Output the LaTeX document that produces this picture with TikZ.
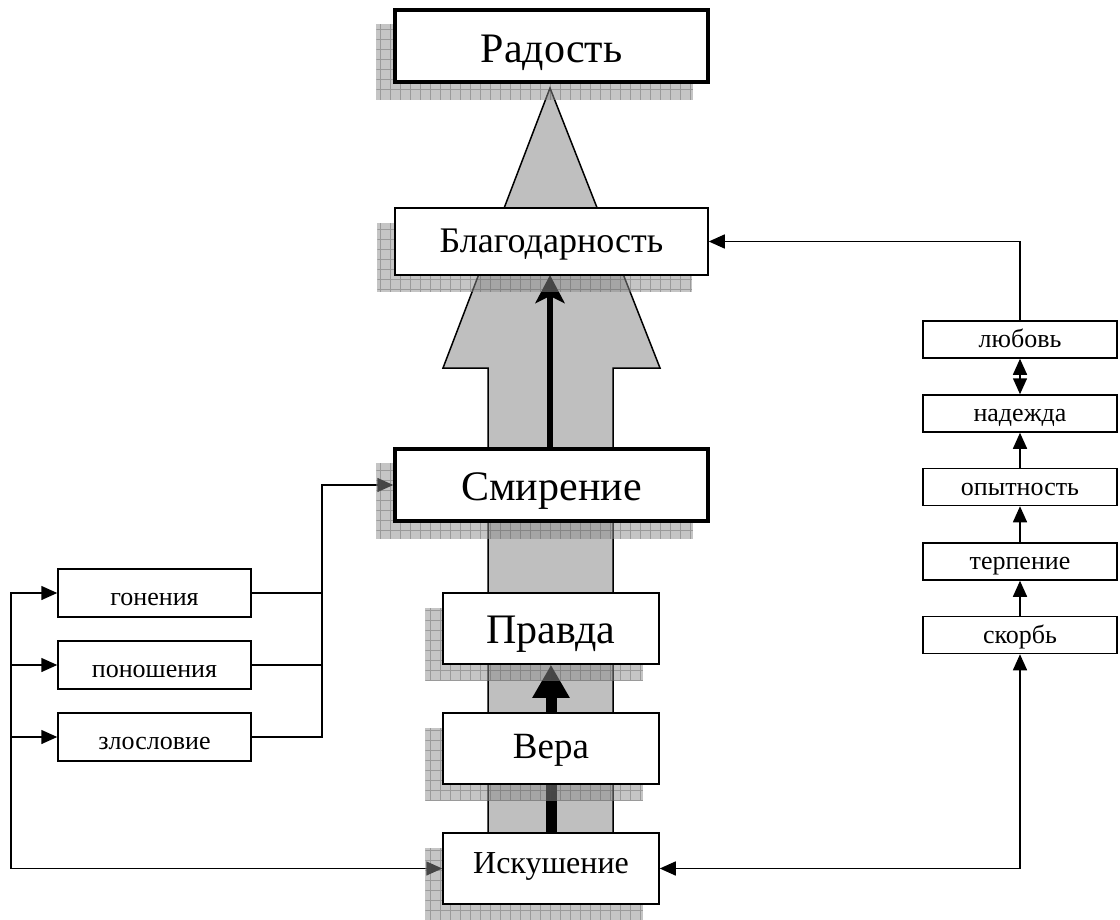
\documentclass[tikz,border=0pt]{standalone}
\usepackage{fontspec}
\setmainfont{Liberation Serif}
\usetikzlibrary{arrows.meta,calc}
\pgfdeclarelayer{back}
\pgfdeclarelayer{lines}
\pgfdeclarelayer{shade}
\pgfsetlayers{back,lines,shade,main}
\definecolor{arrowgray}{gray}{0.75}
\tikzset{
  bline/.style={text height=#1, text depth=0pt},
  bigbox/.style={draw, line width=3.5pt, fill=white, minimum width=313pt, minimum height=72pt, inner sep=0pt},
  midbox/.style={draw, line width=1.5pt, fill=white, minimum width=313pt, minimum height=67pt, inner sep=0pt},
  stackbox/.style={draw, line width=1.5pt, fill=white, minimum width=216pt, minimum height=71pt, inner sep=0pt},
  leftbox/.style={draw, line width=1.5pt, fill=white, minimum width=193pt, minimum height=48pt, inner sep=0pt, font=\fontsize{26}{30}\selectfont, bline=24pt},
  rightbox/.style={draw, line width=1.5pt, fill=white, minimum width=194pt, minimum height=37pt, inner sep=0pt, font=\fontsize{26}{30}\selectfont, bline=16pt},
  conn/.style={line width=1.5pt},
  tip/.style={-{Triangle[length=16pt,width=14pt]}},
  dtip/.style={{Triangle[length=16pt,width=14pt]}-{Triangle[length=16pt,width=14pt]}},
  shfill/.style={fill=black!45, fill opacity=0.5},
  shgrid/.style={draw=black!70, draw opacity=0.35, line width=1pt},
}
\newcommand{\shd}[1]{%
  \begin{scope}
    \path ([shift={(-17,16)}]#1.south west) coordinate (sa)
          ([shift={(-17,16)}]#1.north east) coordinate (sb);
    \fill[shfill] (sa) rectangle (sb);
    \clip (sa) rectangle (sb);
    \draw[shgrid] (sa) grid[step=10pt] (sb);
  \end{scope}}
\begin{document}
\begin{tikzpicture}[x=1pt,y=-1pt]
\useasboundingbox (0,0) rectangle (1120,920);
% central column
\node[bigbox, font=\fontsize{42}{48}\selectfont, bline=34pt] (rad) at (551.5,46) {Радость};
\node[midbox, font=\fontsize{36}{42}\selectfont, bline=23pt] (blag) at (551.5,241.5) {Благодарность};
\node[bigbox, font=\fontsize{42}{48}\selectfont, bline=30pt] (smir) at (551.5,485) {Смирение};
\node[stackbox, font=\fontsize{42}{48}\selectfont, bline=29pt] (prav) at (551,628.5) {Правда};
\node[stackbox, font=\fontsize{37}{44}\selectfont, bline=19pt] (vera) at (551,748.5) {Вера};
\node[stackbox, font=\fontsize{32}{38}\selectfont, bline=9pt] (isk) at (551,868.5) {Искушение};
% left column
\node[leftbox] (gon) at (154.5,593) {гонения};
\node[leftbox] (pon) at (154.5,665) {поношения};
\node[leftbox] (zlo) at (154.5,737) {злословие};
% right column
\node[rightbox] (lub) at (1020,339.5) {любовь};
\node[rightbox] (nad) at (1020,413.5) {надежда};
\node[rightbox] (opy) at (1020,487) {опытность};
\node[rightbox] (ter) at (1020,561.5) {терпение};
\node[rightbox] (sko) at (1020,635) {скорбь};
\coordinate (rbus) at (322,737);
\coordinate (lbus) at (11,868.5);
% big arrow
\begin{pgfonlayer}{back}
\draw[line width=1.5pt, fill=arrowgray, line join=miter]
  (550,88) -- (660,368) -- (613,368) -- (613,833) -- (488,833) -- (488,368) -- (443,368) -- cycle;
\end{pgfonlayer}
% connectors
\begin{pgfonlayer}{lines}
\draw[line width=6pt, -{Stealth[length=28pt,width=29pt,inset=7pt]}] (550,449) -- (550,275);
\draw[line width=11pt, -{Triangle[length=33pt,width=35pt]}] (vera.north) -- (prav.south);
\draw[line width=11pt] (isk.north) -- (vera.south);
\draw[conn, tip] (zlo.east) -- (rbus) |- (smir.west);
\draw[conn] (gon.east) -- (gon.east -| rbus);
\draw[conn] (pon.east) -- (pon.east -| rbus);
\draw[conn, dtip] (isk.west) -- (lbus) |- (gon.west);
\draw[conn, tip] (lbus |- pon.west) -- (pon.west);
\draw[conn, tip] (lbus |- zlo.west) -- (zlo.west);
\draw[conn, dtip] (isk.east) -| (sko.south);
\draw[conn, tip] (sko.north) -- (ter.south);
\draw[conn, tip] (ter.north) -- (opy.south);
\draw[conn, tip] (opy.north) -- (nad.south);
\draw[conn, dtip] (nad.north) -- (lub.south);
\draw[conn, tip] (lub.north) |- (blag.east);
\end{pgfonlayer}
% shadows
\begin{pgfonlayer}{shade}
\shd{rad}
\shd{blag}
\shd{smir}
\shd{prav}
\shd{vera}
\shd{isk}
\end{pgfonlayer}
\end{tikzpicture}
\end{document}
